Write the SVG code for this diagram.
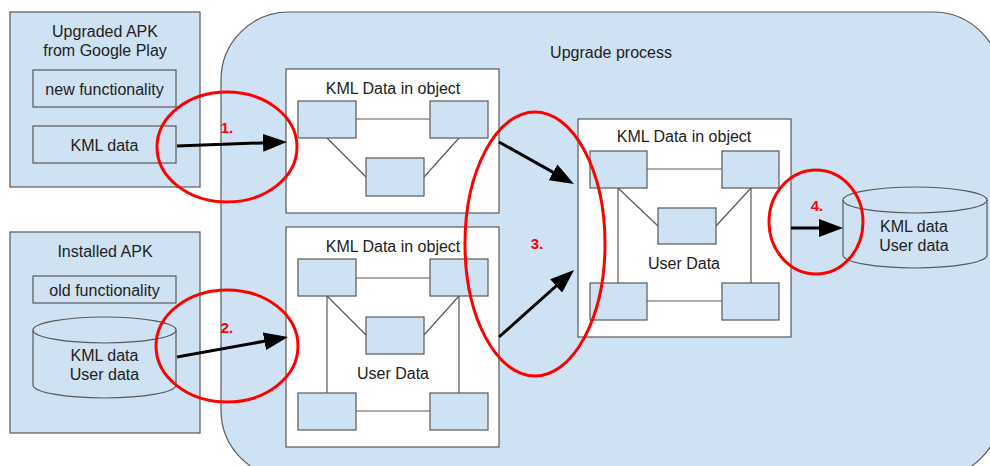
<svg xmlns="http://www.w3.org/2000/svg" width="990" height="466" viewBox="0 0 990 466">
<defs>
<style>
.bx{fill:#cfe2f3;stroke:#595959;stroke-width:1.2}
.wb{fill:#ffffff;stroke:#595959;stroke-width:1.2}
.ln{stroke:#595959;stroke-width:1.2;fill:none}
.t{font-family:"Liberation Sans",Arial,sans-serif;font-size:16px;fill:#212121;text-anchor:middle}
.ar{stroke:#000;stroke-width:3;fill:none}
.rd{fill:none;stroke:#ff0000;stroke-width:3}
.rt{font-family:"Liberation Sans",Arial,sans-serif;font-size:15px;font-weight:bold;fill:#ff0000;text-anchor:middle}
</style>
<marker id="ah" markerUnits="userSpaceOnUse" markerWidth="24" markerHeight="18" refX="12" refY="9" orient="auto">
<path d="M0,0 L24,9 L0,18 z" fill="#000"/>
</marker>
</defs>
<rect width="990" height="466" fill="#ffffff"/>

<g id="upgrade-process">
<rect class="bx" x="221" y="12" width="780" height="466" rx="68" ry="68"/>
<text class="t" x="611" y="58">Upgrade process</text>
</g>

<g id="upgraded-apk">
<rect class="bx" x="10" y="12" width="190" height="175"/>
<text class="t" x="105" y="37">Upgraded APK</text>
<text class="t" x="105" y="56">from Google Play</text>
</g>
<g id="new-functionality">
<rect class="bx" x="33" y="70" width="143" height="37"/>
<text class="t" x="104.5" y="95">new functionality</text>
</g>
<g id="kml-data-new">
<rect class="bx" x="33" y="126" width="143" height="37"/>
<text class="t" x="104.5" y="151">KML data</text>
</g>

<g id="installed-apk">
<rect class="bx" x="10" y="232" width="190" height="201"/>
<text class="t" x="105" y="257">Installed APK</text>
</g>
<g id="old-functionality">
<rect class="bx" x="33" y="276" width="143" height="27"/>
<text class="t" x="104.5" y="296">old functionality</text>
</g>
<g id="installed-db">
<path class="bx" d="M33,330 A71.5,13 0 0 1 176,330 L176,385 A71.5,13 0 0 1 33,385 Z"/>
<path class="ln" d="M33,330 A71.5,13 0 0 0 176,330"/>
<text class="t" x="104.5" y="361">KML data</text>
<text class="t" x="104.5" y="380">User data</text>
</g>

<g id="object-top">
<rect class="wb" x="286" y="69" width="213" height="144"/>
<text class="t" x="393" y="94">KML Data in object</text>
<line class="ln" x1="356" y1="119" x2="430" y2="119"/>
<line class="ln" x1="327" y1="138" x2="366" y2="177"/>
<line class="ln" x1="459" y1="138" x2="424" y2="177"/>
<rect class="bx" x="298" y="101" width="58" height="37"/>
<rect class="bx" x="430" y="101" width="58" height="37"/>
<rect class="bx" x="366" y="158" width="58" height="38"/>
</g>

<g id="object-bottom">
<rect class="wb" x="286" y="227" width="213" height="220"/>
<text class="t" x="393" y="252">KML Data in object</text>
<line class="ln" x1="356" y1="278" x2="430" y2="278"/>
<line class="ln" x1="356" y1="411" x2="430" y2="411"/>
<line class="ln" x1="327" y1="296" x2="327" y2="393"/>
<line class="ln" x1="459" y1="296" x2="459" y2="393"/>
<line class="ln" x1="327" y1="296" x2="366" y2="335"/>
<line class="ln" x1="459" y1="296" x2="424" y2="335"/>
<rect class="bx" x="298" y="259" width="58" height="37"/>
<rect class="bx" x="430" y="259" width="58" height="37"/>
<rect class="bx" x="366" y="317" width="58" height="37"/>
<rect class="bx" x="298" y="393" width="58" height="37"/>
<rect class="bx" x="430" y="393" width="58" height="37"/>
<text class="t" x="393" y="379">User Data</text>
</g>

<g id="object-merged">
<rect class="wb" x="578" y="119" width="213" height="218"/>
<text class="t" x="684" y="142">KML Data in object</text>
<line class="ln" x1="647" y1="169" x2="722" y2="169"/>
<line class="ln" x1="647" y1="301" x2="722" y2="301"/>
<line class="ln" x1="618" y1="188" x2="618" y2="283"/>
<line class="ln" x1="751" y1="188" x2="751" y2="283"/>
<line class="ln" x1="618" y1="188" x2="658" y2="226"/>
<line class="ln" x1="751" y1="188" x2="716" y2="226"/>
<rect class="bx" x="590" y="151" width="57" height="37"/>
<rect class="bx" x="722" y="151" width="57" height="37"/>
<rect class="bx" x="658" y="208" width="58" height="36"/>
<rect class="bx" x="590" y="283" width="57" height="37"/>
<rect class="bx" x="722" y="283" width="57" height="37"/>
<text class="t" x="684" y="269">User Data</text>
</g>

<g id="result-db">
<path class="bx" d="M843,200 A72,13 0 0 1 987,200 L987,255 A72,13 0 0 1 843,255 Z"/>
<path class="ln" d="M843,200 A72,13 0 0 0 987,200"/>
<text class="t" x="914" y="232">KML data</text>
<text class="t" x="914" y="251">User data</text>
</g>

<g id="connectors">
<line class="ar" x1="177" y1="146" x2="275" y2="142.4" marker-end="url(#ah)"/>
<line class="ar" x1="177" y1="357" x2="276.2" y2="339.1" marker-end="url(#ah)"/>
<line class="ar" x1="499" y1="142" x2="563.5" y2="178.1" marker-end="url(#ah)"/>
<line class="ar" x1="499" y1="337" x2="565.1" y2="278" marker-end="url(#ah)"/>
<line class="ar" x1="791" y1="228" x2="831" y2="228" marker-end="url(#ah)"/>
</g>

<g id="highlights">
<ellipse class="rd" cx="227" cy="147" rx="70" ry="55"/>
<text class="rt" x="227" y="133">1.</text>
<ellipse class="rd" cx="227" cy="346" rx="71" ry="56"/>
<text class="rt" x="227" y="333">2.</text>
<ellipse class="rd" cx="535" cy="244" rx="70" ry="132"/>
<text class="rt" x="537" y="249">3.</text>
<ellipse class="rd" cx="816" cy="222" rx="47" ry="52"/>
<text class="rt" x="817" y="211">4.</text>
</g>
</svg>
